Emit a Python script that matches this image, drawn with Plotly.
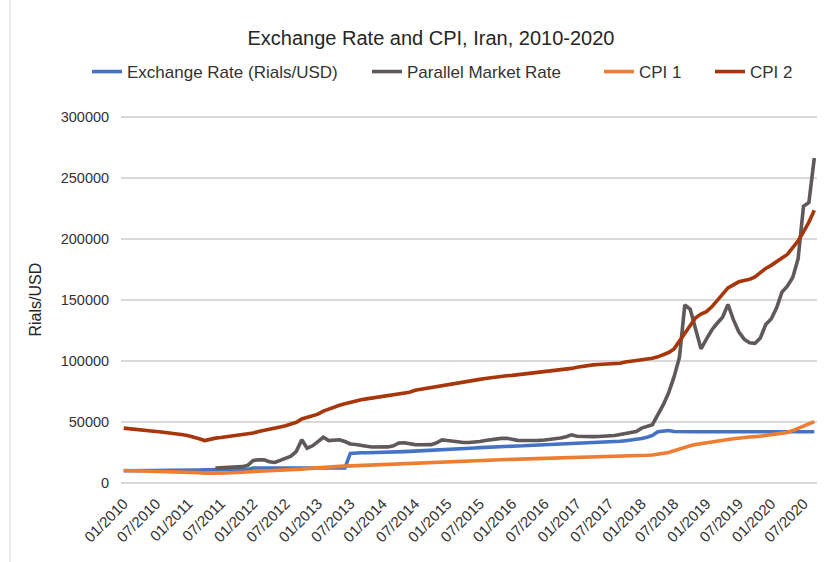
import plotly.graph_objects as go

# ---- data (monthly, 01/2010 .. 09/2020) ----
months = [f"{m:02d}/{y}" for y in range(2010, 2021) for m in range(1, 13)][:129]
tick_labels = months[::6]

exchange_rate = [
    10000, 10000, 10050, 10100, 10150, 10200, 10250, 10300, 10350, 10400, 10450, 10500,
    10550, 10600, 10700, 10750, 10800, 10850, 10900, 10950, 11000, 11050, 11100, 11150,
    12260, 12260, 12260, 12260, 12260, 12260, 12260, 12260, 12260, 12260, 12260, 12260,
    12260, 12260, 12260, 12260, 12260, 12260, 24300, 24780, 24800, 24830, 24850, 24900,
    25000, 25100, 25300, 25500, 25700, 25900, 26100, 26300, 26500, 26600, 26700, 26800,
    27000, 27300, 27700, 28000, 28300, 28700, 29000, 29300, 29600, 29800, 29900, 30000,
    30200, 30400, 30500, 30700, 30800, 30900, 31000, 31100, 31300, 31500, 31800, 32000,
    32200, 32300, 32400, 32500, 32700, 32900, 33200, 33700, 34200, 34700, 35200, 35600,
    36500, 37500, 39000, 42000, 42800, 43000, 42200, 42000, 42000, 42000, 42000, 42000,
    42000, 42000, 42000, 42000, 42000, 42000, 42000, 42000, 42000, 42000, 42000, 42000,
    42000, 42000, 42000, 42000, 42000, 42000, 42000, 42000, 42000,
]

parallel_rate = [None] * 17 + [
    12200, 12300, 12500, 12700, 13000, 13400, 14500,
    18500, 19000, 19000, 17500, 16800, 18500, 20500, 22000, 26000, 35500, 28500, 30500,
    34000, 37500, 34800, 35500, 35500, 34000, 32000, 31600, 31200, 30200, 29500, 29300,
    29400, 29600, 30500, 32800, 33000, 32000, 31500, 31400, 31300, 31500, 33000, 35300,
    34800, 34200, 33600, 33200, 33200, 33400, 34000, 34800, 35600, 36300, 36600, 36700,
    35800, 35000, 34900, 34800, 34900, 35000, 35300, 35800, 36200, 36900, 38000, 39500,
    38300, 38000, 38000, 38000, 38100, 38200, 38400, 39000, 39800, 40400, 41200, 42300,
    45000, 46800, 47800, 56000, 64000, 74000, 87000, 103000, 146000, 142500, 125000, 110000,
    118000, 125500, 131000, 136000, 146500, 134000, 124000, 118000, 115000, 114500, 119000, 130000,
    134500, 143500, 156500, 161500, 168500, 184000, 227000, 230000, 266500,
]

cpi1 = [
    10300, 10200, 10100, 10000, 10000, 9900, 9800, 9700, 9700, 9600, 9500, 9500,
    9400, 9200, 8500, 8000, 7800, 7800, 8000, 8200, 8400, 8500, 8700, 8800,
    8900, 9100, 9300, 9500, 9800, 10100, 10400, 10700, 11000, 11400, 11800, 12200,
    12500, 12800, 13100, 13400, 13600, 13800, 14000, 14200, 14400, 14600, 14800, 15000,
    15200, 15400, 15700, 16000, 16200, 16400, 16600, 16800, 17000, 17200, 17400, 17600,
    17800, 18000, 18200, 18400, 18500, 18600, 18700, 18800, 19000, 19100, 19200, 19300,
    19400, 19500, 19600, 19700, 19800, 19900, 20100, 20300, 20600, 20800, 21000, 21200,
    21300, 21400, 21500, 21600, 21700, 21800, 21900, 22000, 22100, 22200, 22300, 22400,
    22500, 22700, 23000, 23500, 24200, 25000, 26500, 28000, 29500, 30500, 31500, 32300,
    32800, 33500, 34200, 34900, 35600, 36300, 37000, 37400, 37700, 38000, 38300, 38900,
    39700, 40300, 40800, 41500, 43000, 44800, 46800, 48700, 50400,
]

cpi2 = [
    45000, 44500, 43800, 43000, 42800, 42500, 42200, 41800, 41400, 40900, 40200, 39500,
    38800, 37800, 36300, 34800, 36000, 36800, 37300, 37800, 38500, 39000, 39500, 40200,
    41000, 42300, 43400, 44200, 45000, 46000, 47000, 48300, 49800, 52500, 54000, 55500,
    56500, 59000, 60800, 62000, 63800, 65000, 66200, 67300, 68200, 69000, 69700, 70300,
    71000, 71700, 72200, 72800, 73400, 74500, 76000, 76800, 77300, 77800, 78800, 80000,
    80800, 81500, 82500, 83000, 83700, 84500, 85000, 85700, 86400, 87000, 87600, 88000,
    88300, 88800, 89500, 90000, 90500, 91000, 91500, 91800, 92000, 92500, 93200, 94000,
    95000, 95800, 96500, 96900, 97200, 97400, 97500, 97600, 98200, 99200, 99700, 100200,
    100800, 101500, 102300, 103500, 105000, 107000, 110000, 116500, 123500, 129500, 135500, 138500,
    140500, 144500, 150000, 155500, 160000, 162500, 165000, 166000, 167000, 169000, 172500, 176000,
    178500, 181500, 184000, 187500, 193000, 198500, 206000, 214000, 223600,
]

series_names = ["Exchange Rate (Rials/USD)", "Parallel Market Rate", "CPI 1", "CPI 2"]
series_values = [exchange_rate, parallel_rate, cpi1, cpi2]
series_colors = ["#4472C4", "#5F5959", "#ED7D31", "#A7360A"]
legend_ids = ["legend", "legend2", "legend3", "legend4"]
legend_text_px = [127, 407, 639, 750]

W, H = 838, 562
FONT = "Liberation Sans"
TXT = "#333333"
GRID = "#D9D9D9"

fig = go.Figure()
for name, vals, col, lg in zip(series_names, series_values, series_colors, legend_ids):
    fig.add_trace(go.Scatter(
        x=months, y=vals, name=name, mode="lines",
        line=dict(color=col, width=3.6),
        legend=lg, connectgaps=False,
    ))

legend_layout = {}
for lg, px in zip(legend_ids, legend_text_px):
    legend_layout[lg] = dict(
        xref="container", yref="container",
        x=(px - 40) / W, y=1 - 72 / H, xanchor="left", yanchor="middle",
        orientation="h", bgcolor="rgba(0,0,0,0)", borderwidth=0,
        font=dict(family=FONT, size=17, color=TXT),
    )

fig.update_layout(
    width=W, height=H, autosize=False,
    margin=dict(l=121, r=21, t=116, b=79),
    paper_bgcolor="white", plot_bgcolor="white",
    showlegend=True,
    title=dict(
        text="Exchange Rate and CPI, Iran, 2010-2020",
        xref="container", yref="container",
        x=431 / W, y=1 - 38 / H, xanchor="center", yanchor="middle",
        font=dict(family=FONT, size=20, color="#262626"),
    ),
    xaxis=dict(
        type="category",
        tickmode="array", tickvals=tick_labels, ticktext=tick_labels,
        tickangle=-45, showgrid=False, zeroline=False,
        showline=False, ticks="outside", ticklen=5, tickcolor="rgba(0,0,0,0)",
        tickfont=dict(family=FONT, size=15, color=TXT),
        range=[-0.5, len(months) - 0.5],
    ),
    yaxis=dict(
        range=[0, 301000], tickmode="linear", tick0=0, dtick=50000, tickformat="d",
        showgrid=True, gridcolor=GRID, gridwidth=1.5,
        zeroline=True, zerolinecolor=GRID, zerolinewidth=1.5,
        showline=False, ticks="outside", ticklen=8, tickcolor="rgba(0,0,0,0)",
        tickfont=dict(family=FONT, size=14.5, color=TXT),
    ),
    annotations=[dict(
        text="Rials/USD", textangle=-90,
        xref="paper", yref="paper",
        x=(35 - 121) / 696, y=0.5, xanchor="center", yanchor="middle",
        showarrow=False, font=dict(family=FONT, size=16, color="#262626"),
    )],
    shapes=[dict(
        type="line", xref="paper", yref="paper",
        x0=(10 - 121) / 696, x1=(10 - 121) / 696,
        y0=-79 / 367, y1=(367 + 116) / 367,
        line=dict(color=GRID, width=1),
    )],
    **legend_layout,
)

fig.write_html("out.html", config={"displayModeBar": False},
               post_script="document.body.style.margin='0px';")
